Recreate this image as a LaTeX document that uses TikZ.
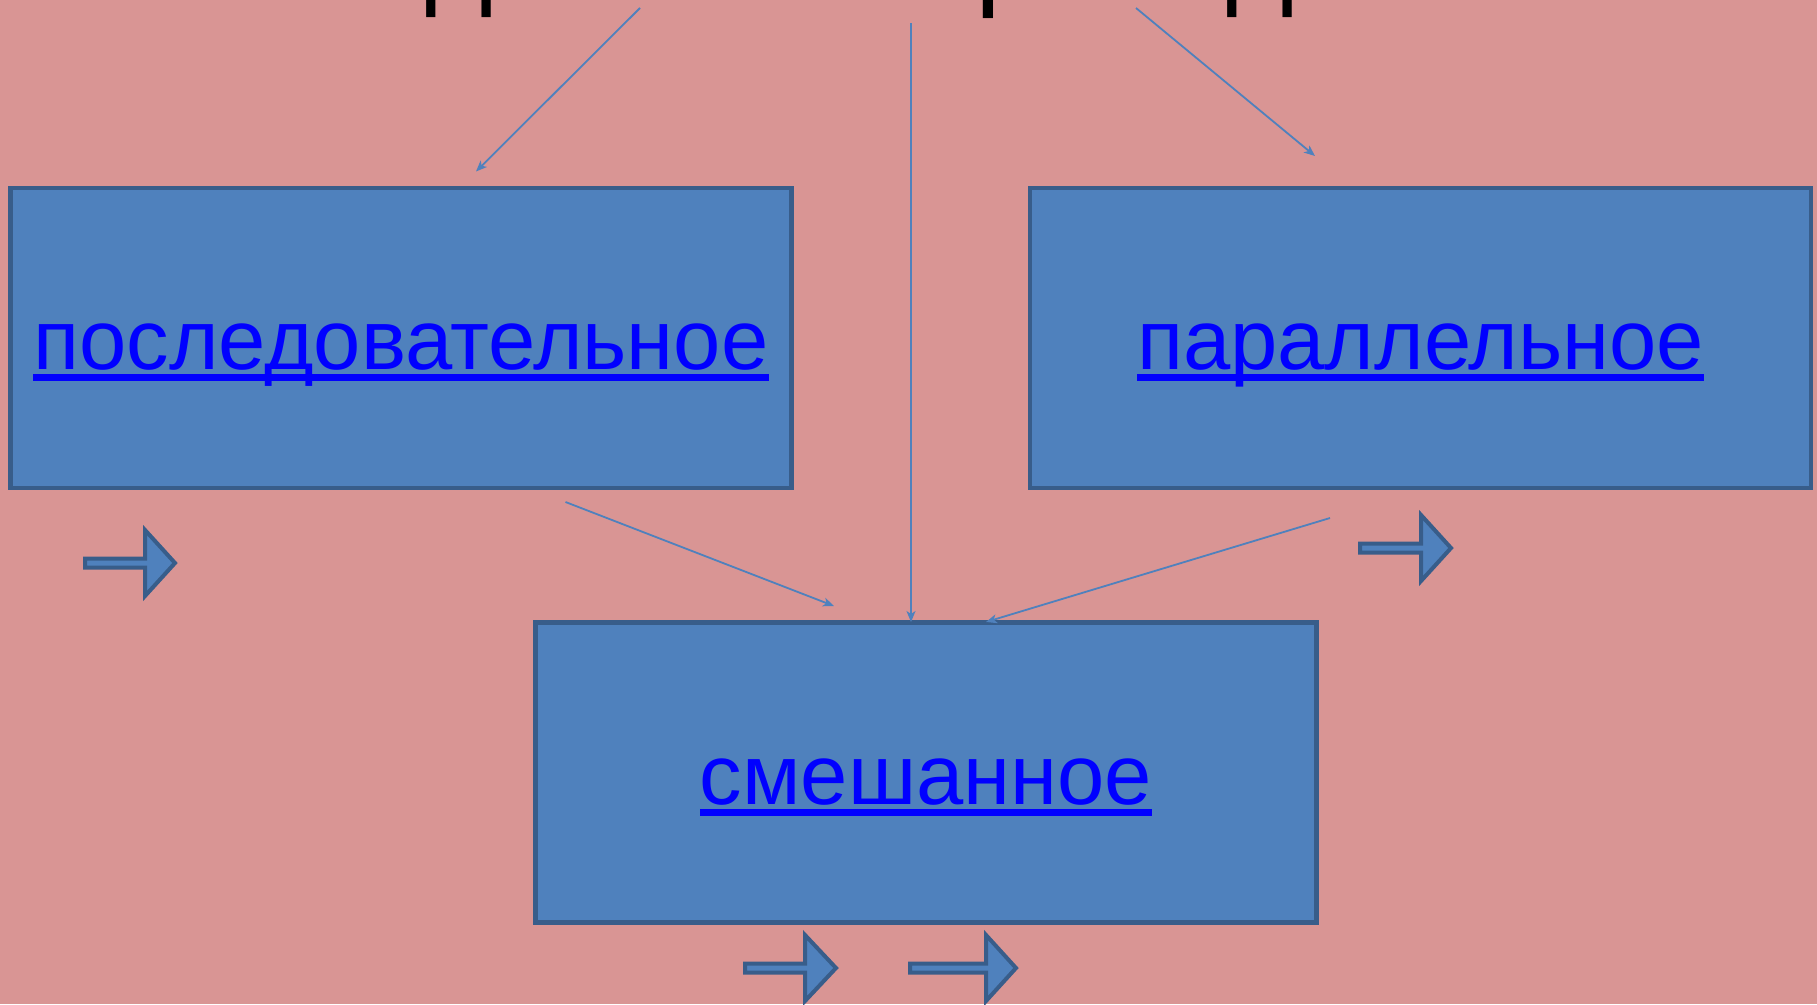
\documentclass[tikz,border=0pt]{standalone}
\usepackage{fontspec}
\setmainfont{Liberation Sans}
\usetikzlibrary{arrows.meta}
\definecolor{bgpink}{HTML}{D99594}
\definecolor{boxfill}{HTML}{4F81BD}
\definecolor{boxline}{HTML}{385D8A}
\definecolor{linkblue}{HTML}{0000FF}
\tikzset{
  box/.style={draw=boxline, fill=boxfill, line width=4.5pt, inner sep=0pt, minimum width=781pt, minimum height=300pt},
  linktext/.style={anchor=base, inner sep=0pt, text=linkblue, font=\fontsize{85}{100}\selectfont},
  conn/.style={draw=boxfill, line width=1.8pt, -{Stealth[length=11pt,width=9pt,inset=3pt]}},
  barrow/.style={draw=boxline, fill=boxfill, line width=4pt, line join=miter},
}
\newcommand\blockarr[4]{%
  \draw[barrow] (#1,#4-4.5) -- (#2,#4-4.5) -- (#2,#4-33) -- (#3,#4) -- (#2,#4+33) -- (#2,#4+4.5) -- (#1,#4+4.5) -- cycle;}
\newcommand\ulnode[1]{%
  \fill[linkblue] ([yshift=-5pt]#1.base west) rectangle ([yshift=-12pt]#1.base east);}
\begin{document}
\begin{tikzpicture}[x=1pt,y=-1pt]
\useasboundingbox (0,0) rectangle (1817,1004);
\clip (0,0) rectangle (1817,1004);
\fill[bgpink] (0,0) rectangle (1817,1004);
% title (cut off at top)
\node[anchor=base, inner sep=0pt, font=\fontsize{116}{130}\selectfont] (title) at (908.5,-6) {Соединение проводников};
% boxes
\node[box] (b1) at (401,337.8) {};
\node[box] (b2) at (1420.5,337.8) {};
\node[box] (b3) at (925.9,772.3) {};
% texts
\node[linktext] (t1) at (401,369) {последовательное};
\ulnode{t1}
\node[linktext] (t2) at (1420.5,369) {параллельное};
\ulnode{t2}
\node[linktext] (t3) at (926,804) {смешанное};
\ulnode{t3}
% connector ends
\coordinate (s1) at (640,8);
\coordinate (e1) at (476,171.5);
\coordinate (s2) at (911,23);
\coordinate (e2) at (911,622);
\coordinate (s3) at (1136,8);
\coordinate (e3) at (1315,156);
\coordinate (s4) at (565.5,502);
\coordinate (e4) at (834,606);
\coordinate (s5) at (1330,518);
\coordinate (e5) at (986,622);
\draw[conn] (s1) -- (e1);
\draw[conn] (s2) -- (e2);
\draw[conn] (s3) -- (e3);
\draw[conn] (s4) -- (e4);
\draw[conn] (s5) -- (e5);
% block arrows
\blockarr{85}{145}{175}{563}
\blockarr{1360}{1421}{1451}{548}
\blockarr{745}{805}{836}{968}
\blockarr{910}{986}{1016}{968}
\end{tikzpicture}
\end{document}
